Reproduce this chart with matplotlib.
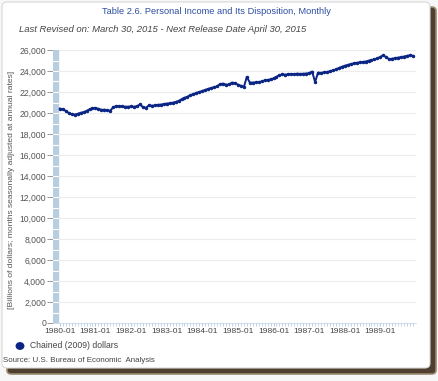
import matplotlib.pyplot as plt
import matplotlib.patches as patches
import numpy as np

plt.rcParams["font.family"] = ["Liberation Sans", "DejaVu Sans"]

# monthly values, chained (2009) dollars, 1980-01 .. 1989-12
v1980 = [20420, 20350, 20200, 20000, 19880, 19850, 19920, 20020, 20080, 20200, 20350, 20450]
v1981 = [20480, 20400, 20300, 20320, 20260, 20220, 20550, 20660, 20640, 20620, 20600, 20600]
v1982 = [20620, 20600, 20640, 20820, 20550, 20500, 20720, 20700, 20720, 20780, 20800, 20850]
v1983 = [20900, 20920, 20980, 21050, 21150, 21300, 21450, 21550, 21700, 21800, 21920, 22000]
v1984 = [22100, 22200, 22300, 22380, 22450, 22550, 22750, 22800, 22700, 22720, 22900, 22850]
v1985 = [22700, 22600, 22480, 23440, 22900, 22900, 22920, 22950, 23000, 23100, 23150, 23200]
v1986 = [23300, 23450, 23600, 23680, 23650, 23700, 23720, 23700, 23750, 23720, 23740, 23760]
v1987 = [23800, 23950, 22950, 23850, 23820, 23860, 23900, 23980, 24050, 24150, 24280, 24400]
v1988 = [24500, 24580, 24660, 24720, 24780, 24820, 24860, 24900, 24980, 25050, 25100, 25200]
v1989 = [25350, 25500, 25300, 25120, 25180, 25220, 25280, 25320, 25380, 25450, 25500, 25450]
values = v1980 + v1981 + v1982 + v1983 + v1984 + v1985 + v1986 + v1987 + v1988 + v1989

years = list(range(1980, 1990))
xlabels = ["%d-01" % y for y in years]
yticks = list(range(0, 26001, 2000))

W, H = 439, 381
fig = plt.figure(figsize=(W / 100, H / 100), dpi=100)
fig.patch.set_facecolor("#f7f7f7")

def fx(px):
    return px / W

def fy(py):
    return 1 - py / H

# card with a brown shadow on the right and bottom
shadow = patches.FancyBboxPatch((fx(7), fy(374)), fx(429), fy(7) - fy(374),
                                boxstyle="round,pad=0,rounding_size=0.01",
                                transform=fig.transFigure, facecolor="#4e3f2e",
                                edgecolor="#9a8a70", linewidth=1.2, zorder=0)
fig.patches.append(shadow)
card = patches.FancyBboxPatch((fx(2), fy(368)), fx(428), fy(2) - fy(368),
                              boxstyle="round,pad=0,rounding_size=0.012",
                              transform=fig.transFigure, facecolor="white",
                              edgecolor="#d8d8d8", linewidth=0.8, zorder=1)
fig.patches.append(card)

ax = fig.add_axes([fx(53), fy(323), fx(416) - fx(53), fy(50) - fy(323)])
ax.set_facecolor("none")
ax.set_zorder(2)

x = np.arange(len(values))
ax.plot(x, values, color="#0b2585", lw=1.4, marker="o", ms=1.5, zorder=3)

ax.set_xlim(-2.3, 120)
ax.set_ylim(0, 26000)

# light blue band along the left edge, split into segments
ax.axvspan(-2.3, -0.6, color="#b8cde0", zorder=1)
for yy in range(1000, 26000, 1000):
    ax.plot([-2.3, -0.6], [yy, yy], color="white", lw=0.8, zorder=1.5)

ax.set_yticks(yticks)
ax.set_yticklabels(["{:,}".format(t) for t in yticks])
ax.yaxis.grid(True, color="#ececec", lw=0.8)
ax.set_axisbelow(True)

ax.set_xticks([12 * i for i in range(len(years))])
ax.set_xticklabels(xlabels)
ax.set_xticks(np.arange(0, 120, 1), minor=True)

for s in ["top", "right", "left"]:
    ax.spines[s].set_visible(False)
ax.spines["bottom"].set_color("#c8d8e8")
ax.spines["bottom"].set_linewidth(0.6)

ax.tick_params(axis="y", colors="#888888", labelcolor="#555555", labelsize=6.2,
               length=4, width=0.6, pad=1)
ax.tick_params(axis="x", which="major", colors="#a8c0dc", labelcolor="#444444",
               labelsize=6.1, length=2, width=0.6, pad=1.5)
ax.tick_params(axis="x", which="minor", colors="#a8c0dc", length=2, width=0.5)

fig.text(fx(216), fy(11), "Table 2.6. Personal Income and Its Disposition, Monthly",
         ha="center", va="center", color="#2d4ea0", fontsize=6.7, zorder=5)
fig.text(fx(19), fy(29), "Last Revised on: March 30, 2015 - Next Release Date April 30, 2015",
         ha="left", va="center", color="#444444", fontsize=6.8, style="italic", zorder=5)
fig.text(fx(12), fy(190), "[Billions of dollars; months seasonally adjusted at annual rates]",
         ha="center", va="center", rotation=90, color="#555555", fontsize=6.1, zorder=5)

fig.patches.append(patches.Circle((fx(20), fy(346)), 0.0085, transform=fig.transFigure,
                                  color="#0b2585", zorder=5))
fig.text(fx(30), fy(346), "Chained (2009) dollars", ha="left", va="center",
         color="#444444", fontsize=6.2, zorder=5)
fig.text(fx(3), fy(360), "Source: U.S. Bureau of Economic  Analysis", ha="left", va="center",
         color="#444444", fontsize=5.7, zorder=5)

fig.savefig("out.png", dpi=100, facecolor=fig.get_facecolor())
